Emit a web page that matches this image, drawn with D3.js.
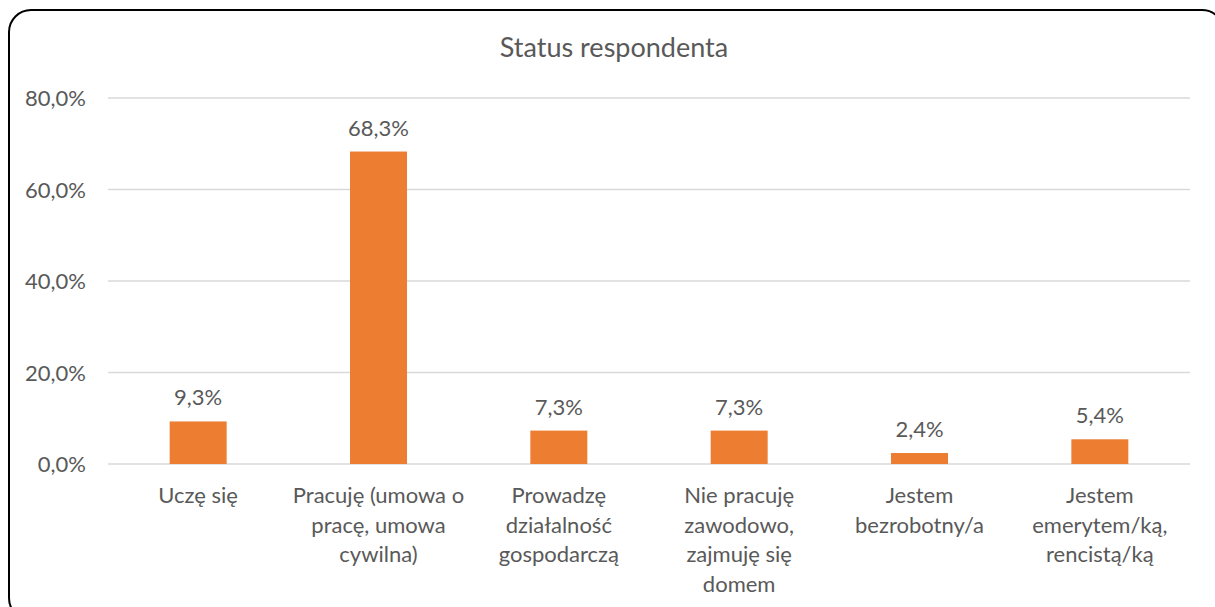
<!DOCTYPE html>
<html>
<head>
<meta charset="utf-8">
<script src="https://cdn.jsdelivr.net/npm/d3@7"></script>
<style>
  body { margin: 0; background: #fff; }
  text { font-family: Lato, "Open Sans", sans-serif; fill: #595959; }
</style>
</head>
<body>
<div id="container"></div>
<script>
const categories = [
  ["Uczę się"],
  ["Pracuję (umowa o", "pracę, umowa", "cywilna)"],
  ["Prowadzę", "działalność", "gospodarczą"],
  ["Nie pracuję", "zawodowo,", "zajmuję się", "domem"],
  ["Jestem", "bezrobotny/a"],
  ["Jestem", "emerytem/ką,", "rencistą/ką"]
];
const values = [9.3, 68.3, 7.3, 7.3, 2.4, 5.4];
const yTicks = [0, 20, 40, 60, 80];
const title = "Status respondenta";

const width = 1215, height = 607;
const margin = {left: 108, right: 25, top: 98, bottom: 143};

const svg = d3.select("#container").append("svg")
  .attr("width", width)
  .attr("height", height);

svg.append("rect")
  .attr("x", 9).attr("y", 10)
  .attr("width", 1215).attr("height", 610)
  .attr("rx", 22)
  .attr("fill", "#fff")
  .attr("stroke", "#000")
  .attr("stroke-width", 2);

const x = d3.scaleBand()
  .domain(d3.range(categories.length))
  .range([margin.left, width - margin.right])
  .paddingInner(0.684)
  .paddingOuter(0.342);

const y = d3.scaleLinear()
  .domain([0, 80])
  .range([height - margin.bottom, margin.top]);

const fmt = v => d3.format(".1f")(v).replace(".", ",") + "%";

svg.append("text")
  .attr("x", 614).attr("y", 57)
  .attr("text-anchor", "middle")
  .style("font-size", "27px")
  .text(title);

// grid
svg.append("g")
  .selectAll("line")
  .data(yTicks)
  .join("line")
  .attr("x1", margin.left)
  .attr("x2", width - margin.right)
  .attr("y1", d => y(d))
  .attr("y2", d => y(d))
  .attr("stroke", "#d9d9d9")
  .attr("stroke-width", 1.5);

const yAxis = svg.append("g")
  .attr("transform", `translate(${margin.left - 22},0)`)
  .call(d3.axisLeft(y).tickValues(yTicks).tickFormat(fmt).tickSize(0).tickPadding(0));
yAxis.select(".domain").remove();
yAxis.selectAll("text").style("font-size", "22px").attr("dy", "0.35em");

svg.append("g")
  .selectAll("rect")
  .data(values)
  .join("rect")
  .attr("x", (d, i) => x(i))
  .attr("width", x.bandwidth())
  .attr("y", d => y(d))
  .attr("height", d => y(0) - y(d))
  .attr("fill", "#ED7D31");

svg.append("g")
  .selectAll("text")
  .data(values)
  .join("text")
  .attr("x", (d, i) => x(i) + x.bandwidth() / 2)
  .attr("y", d => y(d) - 16)
  .attr("text-anchor", "middle")
  .style("font-size", "22px")
  .text(fmt);

const catG = svg.append("g")
  .selectAll("text")
  .data(categories)
  .join("text")
  .attr("x", (d, i) => x(i) + x.bandwidth() / 2)
  .attr("y", 503)
  .attr("text-anchor", "middle")
  .style("font-size", "22px");
catG.selectAll("tspan")
  .data(d => d)
  .join("tspan")
  .attr("x", function() { return this.parentNode.getAttribute("x"); })
  .attr("dy", (d, j) => j === 0 ? 0 : 29.5)
  .text(d => d);
</script>
</body>
</html>
